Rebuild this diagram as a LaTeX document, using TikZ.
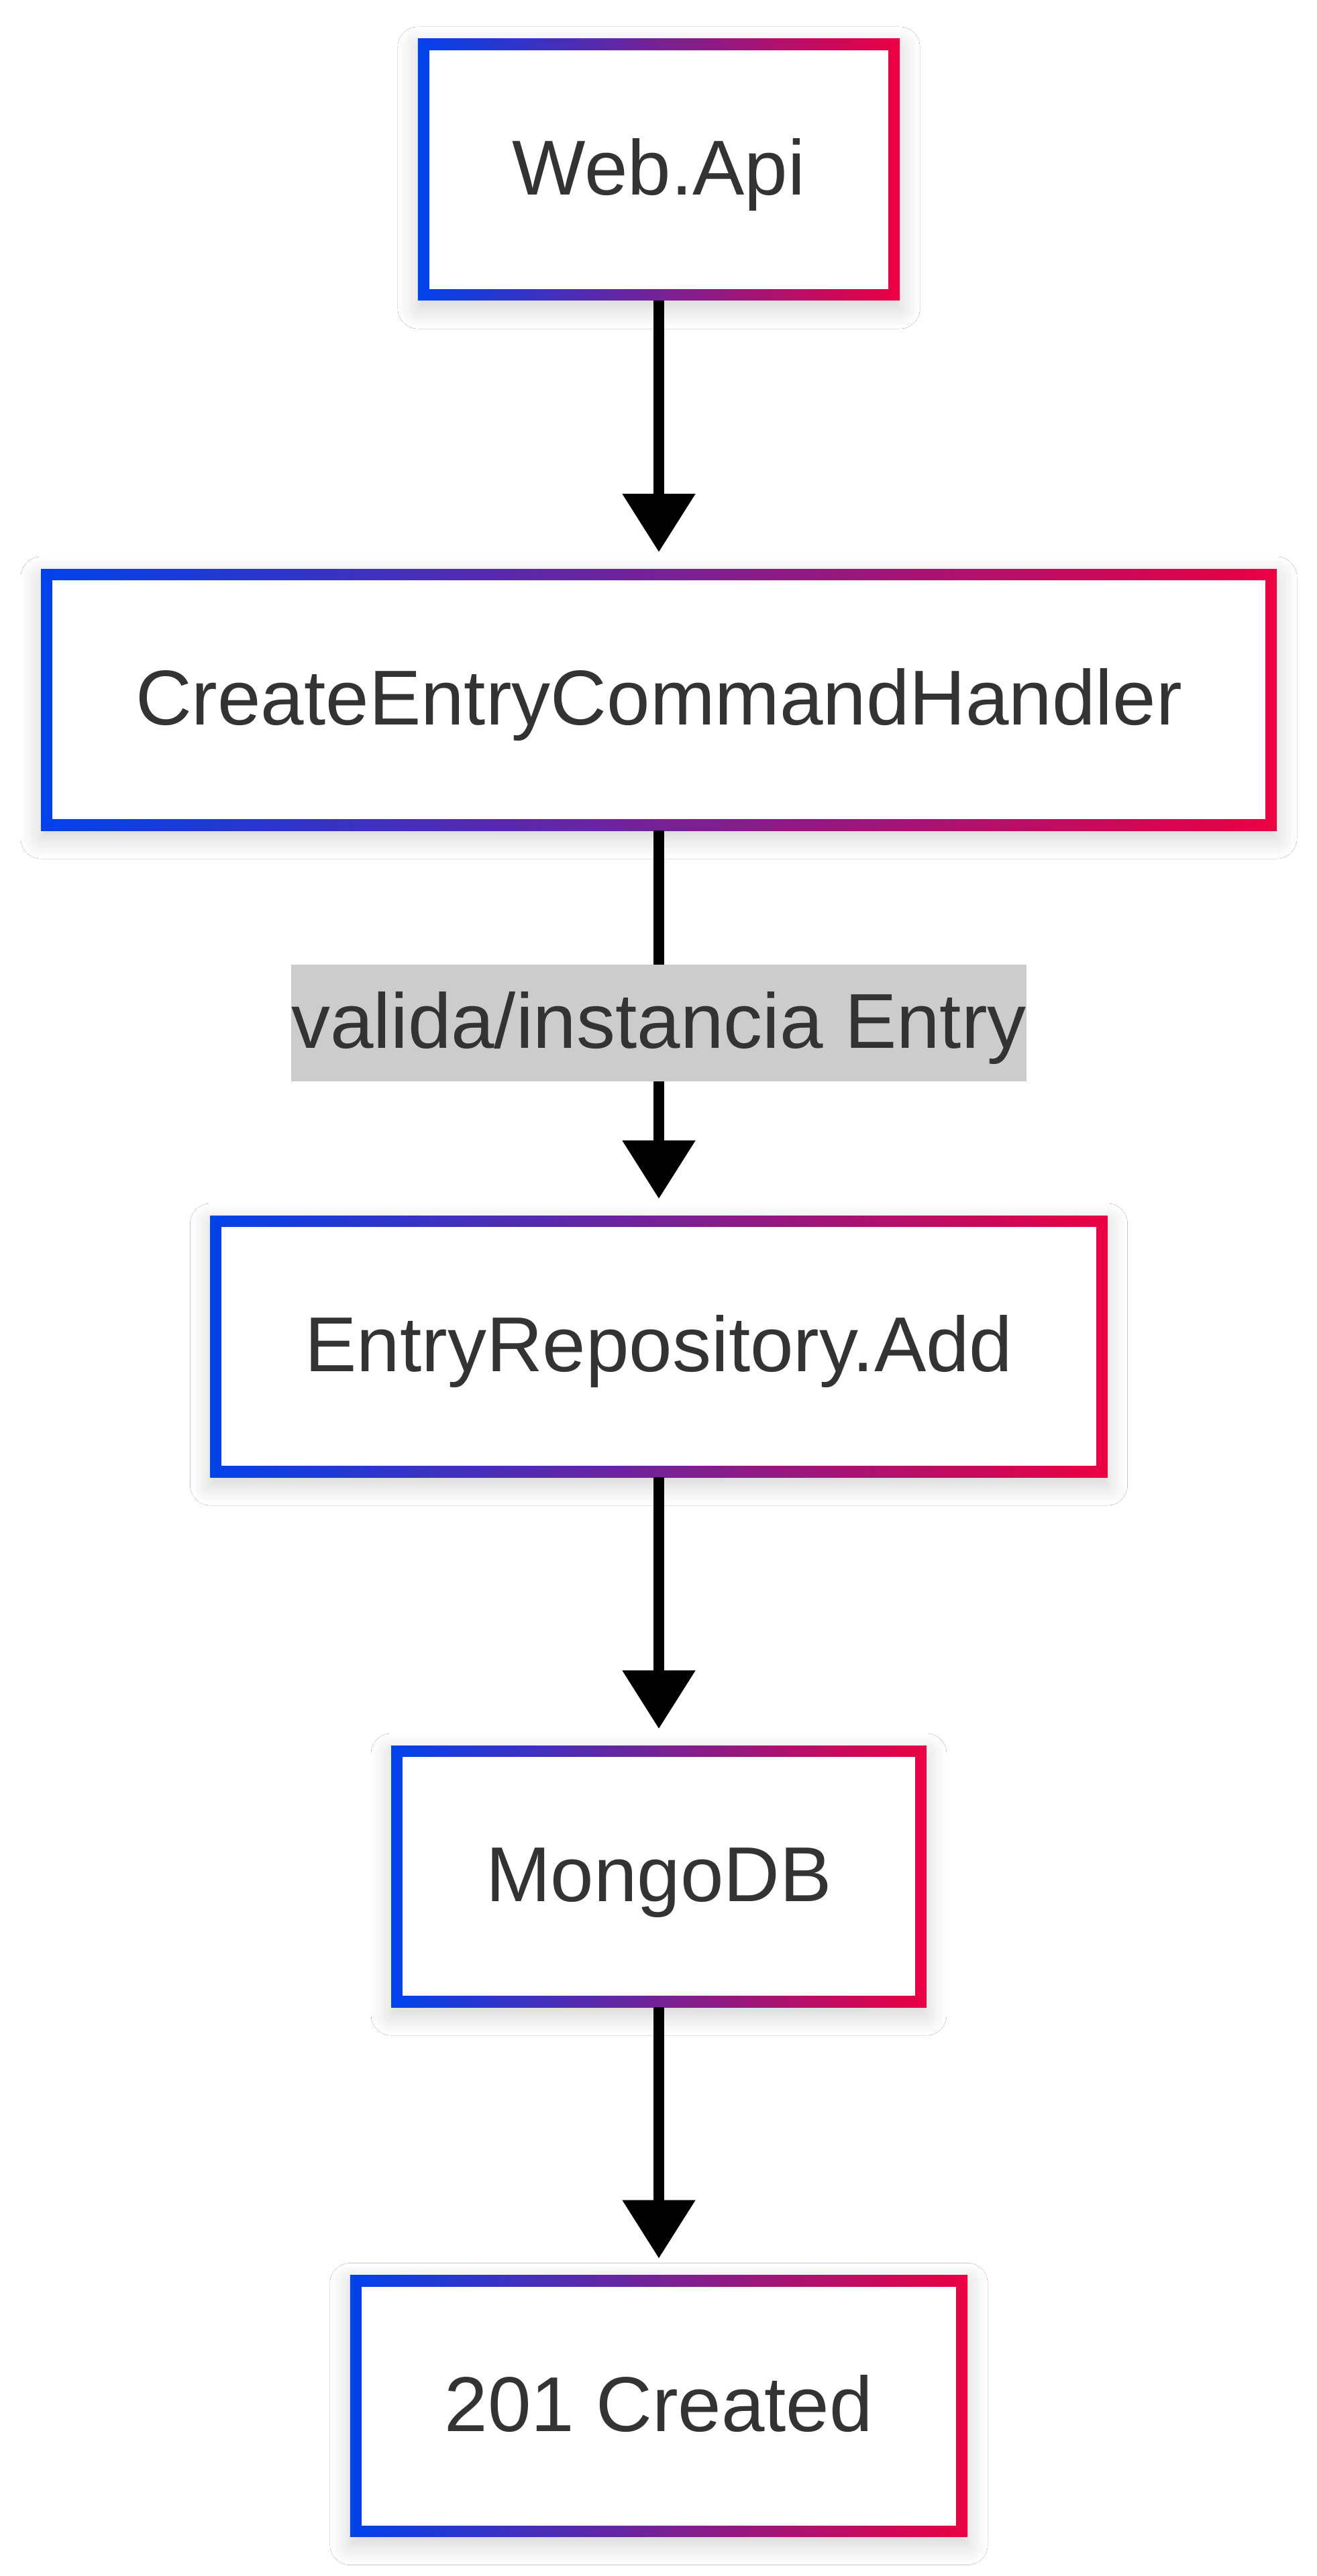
\documentclass[tikz,border=0pt]{standalone}
\usepackage{fontspec}
\setmainfont{Liberation Sans}
\usetikzlibrary{arrows.meta,shadows.blur}
\definecolor{boxblue}{RGB}{0,66,235}
\definecolor{boxred}{RGB}{235,0,66}
\definecolor{labelgray}{RGB}{204,204,204}
\definecolor{textgray}{RGB}{51,51,51}

\begin{document}
\begin{tikzpicture}[
        stage/.style={rectangle,outer sep=0pt,inner xsep=1.41cm,inner ysep=0pt,minimum height=3.9cm,
          text=textgray,font=\fontsize{33}{40}\selectfont,text height=0.8cm,text depth=0.05cm,
          left color=boxblue,right color=boxred,
          blur shadow={shadow xshift=0cm,shadow yshift=-0.12cm,shadow blur radius=0.3cm,
            shadow blur steps=10,shadow opacity=18},
          path picture={\fill[white] ([shift={(0.17cm,0.17cm)}]path picture bounding box.south west)
            rectangle ([shift={(-0.17cm,-0.17cm)}]path picture bounding box.north east);}},
        note/.style={rectangle,fill=labelgray,text=textgray,font=\fontsize{33}{40}\selectfont,
          inner xsep=0pt,inner ysep=0.445cm,text height=0.8cm,text depth=0.05cm},
        flow/.style={line width=0.16cm,-{Triangle[length=0.87cm,width=1.05cm]},shorten >=0.25cm}
        ]

        \path[use as bounding box,fill=white] (0,0) rectangle (19.62,-38.4);

        \node (webapi) at (9.82, -2.53) [stage] {Web.Api};
        \node (handler) at (9.82, -10.43) [stage] {CreateEntryCommandHandler};
        \node (repo) at (9.82, -20.07) [stage] {EntryRepository.Add};
        \node (mongo) at (9.82, -27.97) [stage] {MongoDB};
        \node (created) at (9.82, -35.865) [stage] {201 Created};
        \draw[flow] (webapi) -- (handler);
        \draw[flow] (handler) -- node[note] {valida/instancia Entry} (repo);
        \draw[flow] (repo) -- (mongo);
        \draw[flow] (mongo) -- (created);
      \end{tikzpicture}
\end{document}
